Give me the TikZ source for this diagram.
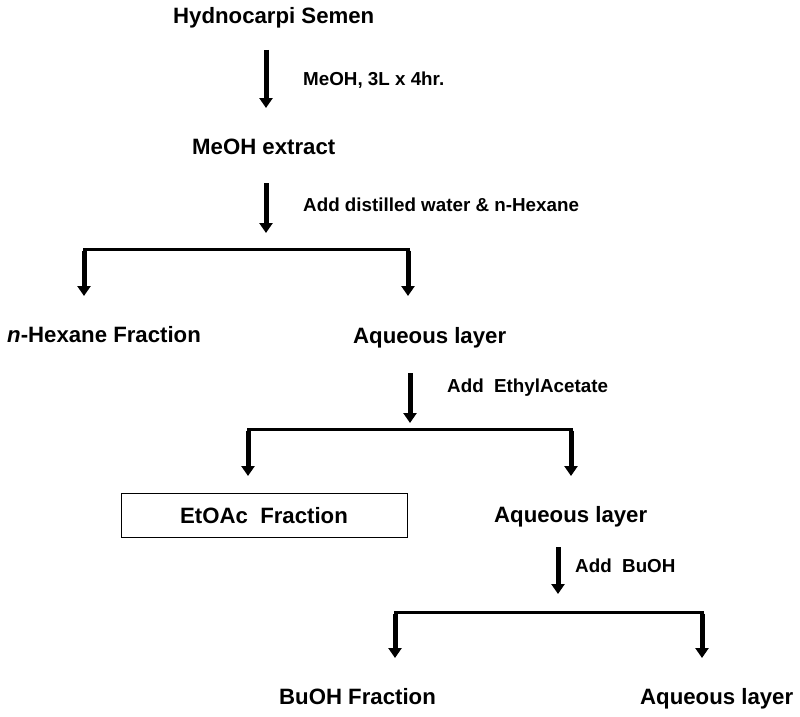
\documentclass[tikz,border=0pt]{standalone}
\usepackage{fontspec}
\setmainfont{Liberation Sans}
\usetikzlibrary{arrows.meta}
\begin{document}
\begin{tikzpicture}[x=1pt,y=-1pt,
  big/.style={font=\fontsize{22.2}{26}\selectfont\bfseries, inner sep=0pt, anchor=base west},
  small/.style={font=\fontsize{18.8}{22}\selectfont\bfseries, inner sep=0pt, anchor=base west},
  flow/.style={line width=5pt, -{Triangle[width=13pt,length=10pt]}},
  hbar/.style={line width=3pt, line cap=rect},
  fbox/.style={draw, line width=1pt, minimum width=286pt, minimum height=44pt, inner sep=0pt}]
\useasboundingbox (0,0) rectangle (800,717);
% texts
\node[big] (hs) at (173,24) {Hydnocarpi Semen};
\node[small] (l1) at (303,85) {MeOH, 3L x 4hr.};
\node[big] (me) at (192,154) {MeOH extract};
\node[small] (l2) at (303,211) {Add distilled water \& n-Hexane};
\node[big] (hx) at (7,342) {\textit{n}-Hexane Fraction};
\node[big] (aq1) at (353,343) {Aqueous layer};
\node[small] (l3) at (447,392) {Add\ \ EthylAcetate};
\node[fbox] (et) at (264,515) {};
\node[big, anchor=base] (ett) at (264,523) {EtOAc\ \ Fraction};
\node[big] (aq2) at (494,522) {Aqueous layer};
\node[small] (l4) at (575,572) {Add\ \ BuOH};
\node[big] (bu) at (279,704) {BuOH Fraction};
\node[big] (aq3) at (640,704) {Aqueous layer};
% coordinates
\coordinate (a1s) at (266,50);  \coordinate (a1e) at (266,108);
\coordinate (a2s) at (266,183); \coordinate (a2e) at (266,233);
\coordinate (b1l) at (84,249);  \coordinate (b1r) at (408,249);
\coordinate (t1l) at (84,296);  \coordinate (t1r) at (408,296);
\coordinate (a3s) at (410,373); \coordinate (a3e) at (410,423);
\coordinate (b2l) at (248,429); \coordinate (b2r) at (571,429);
\coordinate (t2l) at (248,476); \coordinate (t2r) at (571,476);
\coordinate (a4s) at (558,547); \coordinate (a4e) at (558,594);
\coordinate (b3l) at (395,612); \coordinate (b3r) at (702,612);
\coordinate (t3l) at (395,658); \coordinate (t3r) at (702,658);
% arrows
\draw[flow] (a1s) -- (a1e);
\draw[flow] (a2s) -- (a2e);
\draw[flow] (a3s) -- (a3e);
\draw[flow] (a4s) -- (a4e);
% brackets
\draw[hbar] (b1l) -- (b1r);
\draw[flow] ([yshift=-1.5pt]b1l) -- (t1l);
\draw[flow] ([yshift=-1.5pt]b1r) -- (t1r);
\draw[hbar] (b2l) -- (b2r);
\draw[flow] ([yshift=-1.5pt]b2l) -- (t2l);
\draw[flow] ([yshift=-1.5pt]b2r) -- (t2r);
\draw[hbar] (b3l) -- (b3r);
\draw[flow] ([yshift=-1.5pt]b3l) -- (t3l);
\draw[flow] ([yshift=-1.5pt]b3r) -- (t3r);
\end{tikzpicture}
\end{document}
